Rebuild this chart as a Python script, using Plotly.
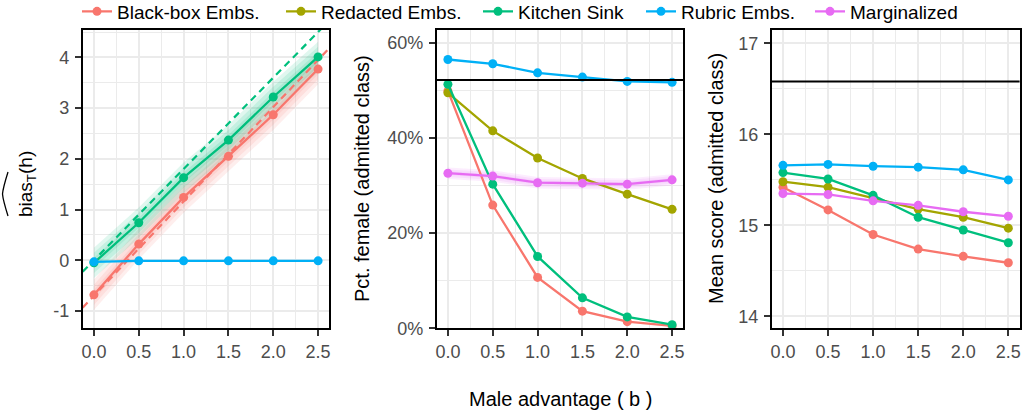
import plotly.graph_objects as go

# ---------------- data ----------------
b = [0.0, 0.5, 1.0, 1.5, 2.0, 2.5]
series_names = ["Black-box Embs.", "Redacted Embs.", "Kitchen Sink", "Rubric Embs.", "Marginalized"]
series_colors = ["#F8766D", "#A3A500", "#00BF7D", "#00B0F6", "#E76BF3"]

# panel 1: estimated bias
bias_blackbox = [-0.68, 0.32, 1.24, 2.05, 2.87, 3.77]
bias_kitchen = [-0.05, 0.74, 1.63, 2.37, 3.22, 4.01]
bias_rubric = [-0.03, -0.01, -0.01, -0.01, -0.01, -0.01]
bias_band_halfwidths = [0.3, 0.2, 0.1]
# dashed reference lines (intercept, slope)
abline_blackbox = (-0.70, 1.86)
abline_kitchen = (0.00, 1.80)

# panel 2: pct female (admitted class), in %
pct_blackbox = [49.9, 25.9, 10.7, 3.6, 1.4, 0.5]
pct_redacted = [49.5, 41.5, 35.8, 31.5, 28.2, 25.0]
pct_kitchen = [51.3, 30.3, 15.1, 6.4, 2.4, 0.75]
pct_rubric = [56.5, 55.6, 53.7, 52.8, 51.9, 51.7]
pct_marginal = [32.6, 32.0, 30.6, 30.5, 30.3, 31.2]
pct_band_halfwidths = [1.2, 0.8, 0.4]
pct_reference = 52.2

# panel 3: mean score (admitted class)
score_blackbox = [15.42, 15.17, 14.90, 14.74, 14.66, 14.59]
score_redacted = [15.48, 15.42, 15.30, 15.18, 15.09, 14.97]
score_kitchen = [15.58, 15.51, 15.33, 15.09, 14.95, 14.81]
score_rubric = [15.66, 15.67, 15.65, 15.64, 15.61, 15.50]
score_marginal = [15.35, 15.34, 15.27, 15.22, 15.15, 15.10]
score_reference = 16.58

# ---------------- layout helpers ----------------
W, H = 1025, 416
FONT = "Liberation Sans, Arial, Helvetica, sans-serif"
def fx(p):
    return p / W
def fy(p):
    return 1 - p / H

XR = [-0.125, 2.625]
col = dict(zip(series_names, series_colors))
# legend: one legend box per entry, placed where the reference shows each entry
legend_text_left = [115, 319, 516, 679, 848]
leg_id = {n: ("legend" if i == 0 else f"legend{i+1}") for i, n in enumerate(series_names)}

def rgba(hexc, a):
    h = hexc.lstrip("#")
    r, g, bb = int(h[0:2], 16), int(h[2:4], 16), int(h[4:6], 16)
    return f"rgba({r},{g},{bb},{a})"

fig = go.Figure()

def add_band(xa, ya, ys, halfs, color, opac):
    for hw in halfs:
        lo = [v - hw for v in ys]
        hi = [v + hw for v in ys]
        fig.add_trace(go.Scatter(x=b + b[::-1], y=hi + lo[::-1], fill="toself",
                                 fillcolor=rgba(color, opac), line=dict(width=0),
                                 mode="lines", hoverinfo="skip", showlegend=False,
                                 xaxis=xa, yaxis=ya))

def add_series(xa, ya, ys, name, show):
    fig.add_trace(go.Scatter(x=b, y=ys, mode="lines+markers", name=name,
                             line=dict(color=col[name], width=2.3),
                             marker=dict(color=col[name], size=9),
                             legend=leg_id[name], showlegend=show,
                             xaxis=xa, yaxis=ya))

# ---- panel 1
add_band("x", "y", bias_blackbox, bias_band_halfwidths, col["Black-box Embs."], 0.12)
add_band("x", "y", bias_kitchen, bias_band_halfwidths, col["Kitchen Sink"], 0.12)
for (ic, sl), name in [(abline_blackbox, "Black-box Embs."), (abline_kitchen, "Kitchen Sink")]:
    fig.add_trace(go.Scatter(x=XR, y=[ic + sl * XR[0], ic + sl * XR[1]], mode="lines",
                             line=dict(color=col[name], width=2.2, dash="7px,5px"),
                             showlegend=False, hoverinfo="skip", xaxis="x", yaxis="y"))
add_series("x", "y", bias_blackbox, "Black-box Embs.", True)
add_series("x", "y", bias_kitchen, "Kitchen Sink", True)
add_series("x", "y", bias_rubric, "Rubric Embs.", True)

# ---- panel 2
add_band("x2", "y2", pct_marginal, pct_band_halfwidths, col["Marginalized"], 0.12)
add_series("x2", "y2", pct_blackbox, "Black-box Embs.", False)
add_series("x2", "y2", pct_redacted, "Redacted Embs.", True)
add_series("x2", "y2", pct_kitchen, "Kitchen Sink", False)
add_series("x2", "y2", pct_rubric, "Rubric Embs.", False)
add_series("x2", "y2", pct_marginal, "Marginalized", True)

# ---- panel 3
add_series("x3", "y3", score_blackbox, "Black-box Embs.", False)
add_series("x3", "y3", score_redacted, "Redacted Embs.", False)
add_series("x3", "y3", score_kitchen, "Kitchen Sink", False)
add_series("x3", "y3", score_rubric, "Rubric Embs.", False)
add_series("x3", "y3", score_marginal, "Marginalized", False)

# reference horizontal lines
fig.add_shape(type="line", xref="x domain", yref="y", x0=0, x1=1, y0=0, y1=0,
              line=dict(color="black", width=1.6), layer="below")
fig.add_shape(type="line", xref="x2 domain", yref="y2", x0=0, x1=1, y0=pct_reference,
              y1=pct_reference, line=dict(color="black", width=2))
fig.add_shape(type="line", xref="x3 domain", yref="y3", x0=0, x1=1, y0=score_reference,
              y1=score_reference, line=dict(color="black", width=2))

tickfont = dict(family=FONT, size=18, color="#4D4D4D")
GRID = "#EBEBEB"

def xaxis(dom, anchor):
    return dict(domain=dom, anchor=anchor, range=XR, tickmode="array",
                tickvals=b, ticktext=[f"{v:.1f}" for v in b],
                ticks="outside", ticklen=6, tickwidth=1.8, tickcolor="#333333",
                tickfont=tickfont, showgrid=True, gridcolor=GRID, gridwidth=1.6,
                minor=dict(tickmode="linear", tick0=0.25, dtick=0.5, showgrid=True,
                           gridcolor=GRID, gridwidth=0.9, ticklen=0),
                showline=True, linecolor="black", linewidth=1.8, mirror=True,
                zeroline=False, fixedrange=True)

def yaxis(dom, anchor, rng, tv, tt, minor0, mdt):
    return dict(domain=dom, anchor=anchor, range=rng, tickmode="array",
                tickvals=tv, ticktext=tt,
                ticks="outside", ticklen=6, tickwidth=1.8, tickcolor="#333333",
                tickfont=tickfont, showgrid=True, gridcolor=GRID, gridwidth=1.6,
                minor=dict(tickmode="linear", tick0=minor0, dtick=mdt, showgrid=True,
                           gridcolor=GRID, gridwidth=0.9, ticklen=0),
                showline=True, linecolor="black", linewidth=1.8, mirror=True,
                zeroline=False, ticklabelstandoff=2, fixedrange=True)

ydom = [fy(328.3), fy(30)]
layout = dict(
    width=W, height=H,
    margin=dict(l=0, r=0, t=0, b=0, autoexpand=False),
    paper_bgcolor="white", plot_bgcolor="white",
    font=dict(family=FONT, size=18, color="black"),
    xaxis=xaxis([fx(82.7), fx(329.3)], "y"),
    xaxis2=xaxis([fx(436.7), fx(683.3)], "y2"),
    xaxis3=xaxis([fx(771.7), fx(1019.6)], "y3"),
    yaxis=yaxis(ydom, "x", [-1.34, 4.54], [-1, 0, 1, 2, 3, 4],
                ["-1", "0", "1", "2", "3", "4"], -0.5, 1),
    yaxis2=yaxis(ydom, "x2", [0, 62.7], [0, 20, 40, 60],
                 ["0%", "20%", "40%", "60%"], 10, 20),
    yaxis3=yaxis(ydom, "x3", [13.87, 17.146], [14, 15, 16, 17],
                 ["14", "15", "16", "17"], 14.5, 1),
    showlegend=True,
)
for name, tl in zip(series_names, legend_text_left):
    layout[leg_id[name]] = dict(orientation="h", x=fx(tl - 38), xanchor="left",
                                y=1.018, yanchor="top",
                                font=dict(family=FONT, size=19, color="black"),
                                bgcolor="rgba(0,0,0,0)", borderwidth=0)
fig.update_layout(**layout)

TITLE_FONT = dict(family=FONT, size=20, color="black")
# axis titles
fig.add_annotation(text="Male advantage ( b )", xref="paper", yref="paper",
                   x=fx(560), y=fy(399), xanchor="center", yanchor="middle",
                   showarrow=False, font=TITLE_FONT)
fig.add_annotation(text="Pct. female (admitted class)", xref="paper", yref="paper",
                   x=fx(362), y=fy(179), xanchor="center", yanchor="middle", textangle=-90,
                   showarrow=False, font=TITLE_FONT)
fig.add_annotation(text="Mean score (admitted class)", xref="paper", yref="paper",
                   x=fx(716), y=fy(179), xanchor="center", yanchor="middle", textangle=-90,
                   showarrow=False, font=TITLE_FONT)
fig.add_annotation(text="bias<sub>T</sub>(h)", xref="paper", yref="paper",
                   x=fx(27), y=fy(184), xanchor="center", yanchor="middle", textangle=-90,
                   showarrow=False, font=dict(family=FONT, size=19, color="black"))
# wide hat over "bias"
hat = (f"M {fx(8)},{fy(216)} Q {fx(3)},{fy(200)} {fx(2.5)},{fy(194)} "
       f"Q {fx(3)},{fy(188)} {fx(8)},{fy(172)}")
fig.add_shape(type="path", xref="paper", yref="paper", path=hat,
              line=dict(color="black", width=1.3))

fig.write_html("out.html", config={"displayModeBar": False},
               post_script="document.body.style.margin='0';")
